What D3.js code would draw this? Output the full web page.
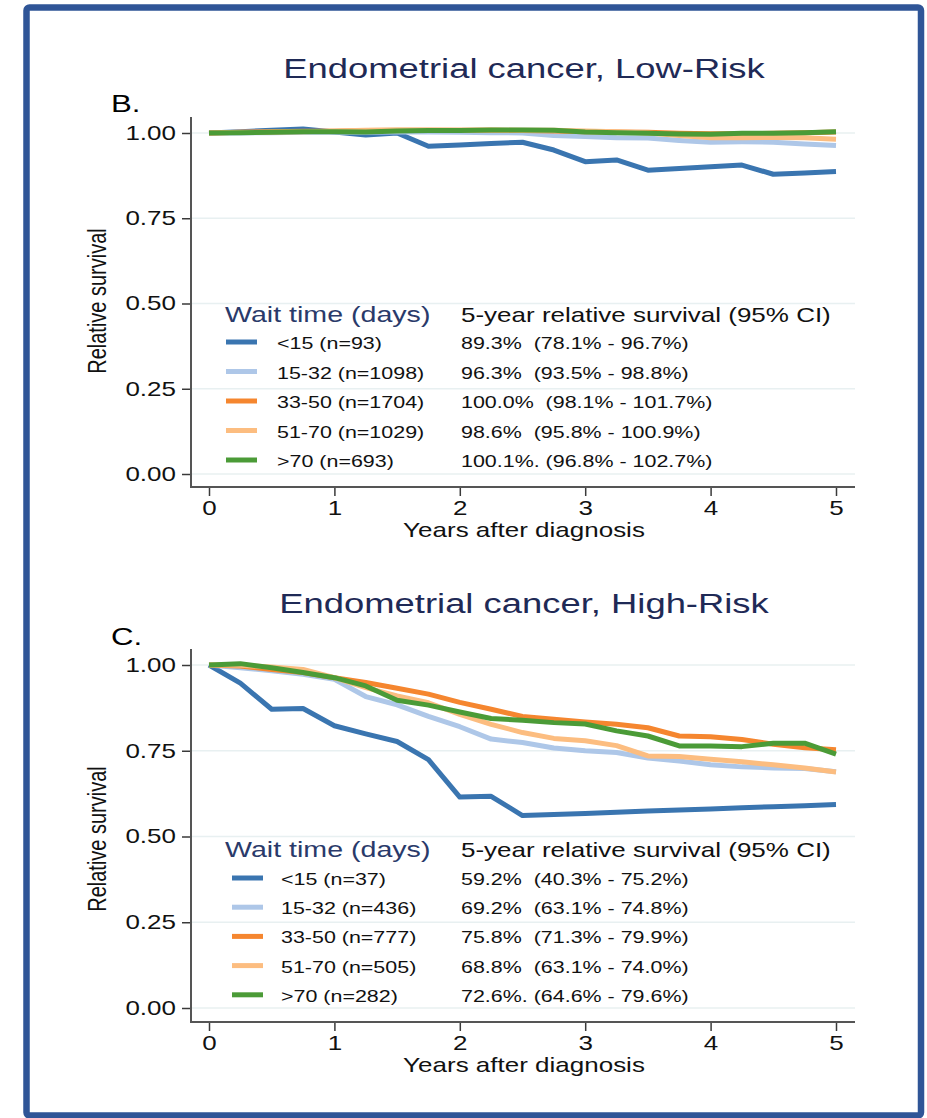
<!DOCTYPE html>
<html>
<head>
<meta charset="utf-8">
<script src="https://cdn.jsdelivr.net/npm/d3@7"></script>
<style>
  body { margin: 0; background: #fff; }
  svg { display: block; font-family: "Liberation Sans", Arial, Helvetica, sans-serif; }
  text { white-space: pre; }
</style>
</head>
<body>
<svg id="board" width="927" height="1118"></svg>
<script>
// time points, years after diagnosis
const years = [0, 0.25, 0.5, 0.75, 1, 1.25, 1.5, 1.75, 2, 2.25, 2.5,
  2.75, 3, 3.25, 3.5, 3.75, 4, 4.25, 4.5, 4.75, 5];
const xTicks = [0, 1, 2, 3, 4, 5];
const yTicks = [0, 0.25, 0.5, 0.75, 1];

const groupColors = ['#3a75b0', '#aec7e8', '#f5862f', '#fcbd80', '#4b9b37'];

// B. low-risk
const lowLabels = ['<15 (n=93)', '15-32 (n=1098)', '33-50 (n=1704)', '51-70 (n=1029)', '>70 (n=693)'];
const lowCI = ['89.3%  (78.1% - 96.7%)', '96.3%  (93.5% - 98.8%)', '100.0%  (98.1% - 101.7%)',
  '98.6%  (95.8% - 100.9%)', '100.1%. (96.8% - 102.7%)'];
const lowLt15 = [1.0, 1.004, 1.008, 1.012, 1.003, 0.994, 1.0, 0.961, 0.965, 0.969, 0.973,
  0.95, 0.916, 0.921, 0.891, 0.896, 0.901, 0.906, 0.879, 0.883, 0.887];
const low15to32 = [1.0, 1.0, 1.001, 1.002, 1.002, 1.002, 1.003, 1.003, 1.002, 1.001, 1.0,
  0.993, 0.99, 0.986, 0.985, 0.978, 0.973, 0.974, 0.973, 0.968, 0.963];
const low33to50 = [1.0, 1.002, 1.004, 1.005, 1.005, 1.007, 1.008, 1.008, 1.008, 1.008, 1.007,
  1.006, 1.004, 1.003, 1.002, 0.999, 0.998, 0.998, 0.999, 1.001, 1.003];
const low51to70 = [1.0, 1.002, 1.003, 1.004, 1.006, 1.008, 1.009, 1.009, 1.008, 1.009, 1.008,
  1.008, 1.006, 1.004, 1.0, 0.993, 0.986, 0.986, 0.987, 0.986, 0.982];
const lowGt70 = [1.0, 1.001, 1.002, 1.004, 1.004, 1.003, 1.006, 1.007, 1.007, 1.009, 1.009,
  1.008, 1.003, 1.001, 0.999, 0.997, 0.996, 0.999, 0.999, 1.001, 1.004];

// C. high-risk
const highLabels = ['<15 (n=37)', '15-32 (n=436)', '33-50 (n=777)', '51-70 (n=505)', '>70 (n=282)'];
const highCI = ['59.2%  (40.3% - 75.2%)', '69.2%  (63.1% - 74.8%)', '75.8%  (71.3% - 79.9%)',
  '68.8%  (63.1% - 74.0%)', '72.6%. (64.6% - 79.6%)'];
const highLt15 = [1.0, 0.947, 0.871, 0.873, 0.823, 0.799, 0.777, 0.724, 0.615, 0.617, 0.561,
  0.564, 0.567, 0.571, 0.574, 0.577, 0.58, 0.584, 0.587, 0.59, 0.593];
const high15to32 = [1.0, 0.992, 0.983, 0.973, 0.958, 0.908, 0.884, 0.85, 0.82, 0.784, 0.774,
  0.758, 0.75, 0.745, 0.729, 0.72, 0.709, 0.703, 0.7, 0.698, 0.689];
const high33to50 = [1.0, 0.997, 0.987, 0.978, 0.963, 0.949, 0.932, 0.915, 0.891, 0.871, 0.85,
  0.842, 0.834, 0.827, 0.817, 0.793, 0.791, 0.783, 0.769, 0.759, 0.753];
const high51to70 = [1.0, 0.999, 0.994, 0.987, 0.963, 0.934, 0.91, 0.89, 0.856, 0.827, 0.803,
  0.786, 0.779, 0.765, 0.735, 0.733, 0.725, 0.718, 0.709, 0.7, 0.688];
const highGt70 = [1.0, 1.004, 0.992, 0.978, 0.963, 0.939, 0.897, 0.883, 0.863, 0.844, 0.839,
  0.832, 0.828, 0.808, 0.793, 0.764, 0.764, 0.762, 0.772, 0.772, 0.74];

// text in the picture is drawn wide, so stretch it horizontally
const SX = 1.3;
const navy = '#1f2a56';
const axisColor = '#3a3a3a';

var board = d3.select('#board');

board.append('rect')
  .attr('x', 26.5).attr('y', 7.5)
  .attr('width', 894.5).attr('height', 1108)
  .attr('rx', 3)
  .attr('fill', 'none')
  .attr('stroke', '#2f5597')
  .attr('stroke-width', 6.5);

const panels = [
  {
    title: 'Endometrial cancer, Low-Risk', letter: 'B.',
    labels: lowLabels, ci: lowCI,
    series: [lowLt15, low15to32, low33to50, low51to70, lowGt70],
    yOne: 133, yZero: 474, plotTop: 117, axisY: 487,
    titleY: 78, letterY: 112, headerY: 322, rowY: 342, rowStep: 29.5,
    swatchX: 226, labelX: 277, ylabelY: 301,
  },
  {
    title: 'Endometrial cancer, High-Risk', letter: 'C.',
    labels: highLabels, ci: highCI,
    series: [highLt15, high15to32, high33to50, high51to70, highGt70],
    yOne: 665, yZero: 1008, plotTop: 649, axisY: 1022,
    titleY: 613, letterY: 645, headerY: 857, rowY: 878, rowStep: 29.2,
    swatchX: 232, labelX: 281, ylabelY: 839,
  },
];

const plotLeft = 191;
const plotRight = 855;

function label(g, x, y, str, size, color, anchor) {
  return g.append('text')
    .attr('transform', `translate(${x},${y}) scale(${SX},1)`)
    .attr('font-size', size)
    .attr('fill', color || '#111')
    .attr('text-anchor', anchor || 'start')
    .text(str);
}

panels.forEach(function (p) {
  var g = board.append('g');
  var x = d3.scaleLinear().domain([0, 5]).range([209, 836]);
  var y = d3.scaleLinear().domain([0, 1]).range([p.yZero, p.yOne]);

  label(g, 524, p.titleY, p.title, 28, navy, 'middle');
  label(g, 111, p.letterY, p.letter, 24, '#000');

  // gridlines
  g.append('g').selectAll('line')
    .data(yTicks)
    .join('line')
    .attr('x1', plotLeft).attr('x2', plotRight)
    .attr('y1', (d) => y(d)).attr('y2', (d) => y(d))
    .attr('stroke', '#e8f0f1')
    .attr('stroke-width', 1.5);

  // y axis
  var yAxis = g.append('g')
    .attr('transform', `translate(${plotLeft},0)`)
    .call(d3.axisLeft(y).tickValues(yTicks).tickFormat(d3.format('.2f')).tickSize(9).tickPadding(6));
  yAxis.select('.domain').remove();
  yAxis.selectAll('line').attr('stroke', axisColor).attr('stroke-width', 1.5);
  yAxis.selectAll('text')
    .attr('x', 0)
    .attr('transform', `translate(-15,0) scale(${SX},1)`)
    .attr('font-size', 20)
    .attr('font-family', null)
    .attr('fill', '#111');

  // x axis
  var xAxis = g.append('g')
    .attr('transform', `translate(0,${p.axisY + 1})`)
    .call(d3.axisBottom(x).tickValues(xTicks).tickFormat(d3.format('d')).tickSize(8));
  xAxis.select('.domain').remove();
  xAxis.selectAll('line').attr('stroke', axisColor).attr('stroke-width', 1.5);
  xAxis.selectAll('text')
    .attr('y', 0).attr('dy', 0)
    .attr('transform', `translate(0,27) scale(${SX},1)`)
    .attr('font-size', 20)
    .attr('font-family', null)
    .attr('fill', '#111');

  g.append('line')
    .attr('x1', plotLeft).attr('x2', plotLeft)
    .attr('y1', p.plotTop).attr('y2', p.axisY + 1)
    .attr('stroke', '#555').attr('stroke-width', 2);
  g.append('line')
    .attr('x1', plotLeft - 1).attr('x2', plotRight)
    .attr('y1', p.axisY).attr('y2', p.axisY)
    .attr('stroke', '#555').attr('stroke-width', 2);

  label(g, 524, p.axisY + 50, 'Years after diagnosis', 20, '#111', 'middle');
  g.append('text')
    .attr('transform', `translate(106,${p.ylabelY}) scale(${SX},1) rotate(-90)`)
    .attr('font-size', 20)
    .attr('fill', '#111')
    .attr('text-anchor', 'middle')
    .text('Relative survival');

  // survival curves
  var line = d3.line()
    .x((d, i) => x(years[i]))
    .y((d) => y(d));
  g.append('g').selectAll('path')
    .data(p.series)
    .join('path')
    .attr('d', line)
    .attr('fill', 'none')
    .attr('stroke', (d, i) => groupColors[i])
    .attr('stroke-width', 5)
    .attr('stroke-linejoin', 'round');

  // legend
  label(g, 225, p.headerY, 'Wait time (days)', 22, '#2a3a6a');
  label(g, 461, p.headerY, '5-year relative survival (95% CI)', 20, '#111');
  p.labels.forEach(function (name, i) {
    var cy = p.rowY + i * p.rowStep;
    g.append('line')
      .attr('x1', p.swatchX).attr('x2', p.swatchX + 31)
      .attr('y1', cy).attr('y2', cy)
      .attr('stroke', groupColors[i])
      .attr('stroke-width', 5);
    label(g, p.labelX, cy + 7, name, 16.5, '#111');
    label(g, 461, cy + 7, p.ci[i], 16.5, '#111');
  });
});
</script>
</body>
</html>
